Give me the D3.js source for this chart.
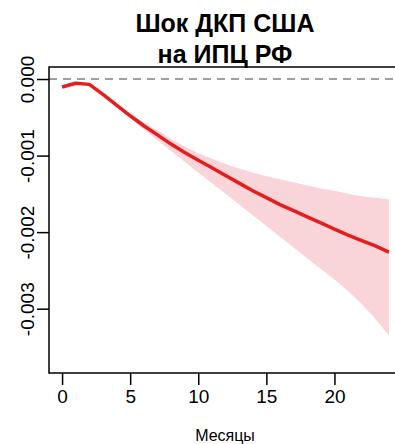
<!DOCTYPE html>
<html>
<head>
<meta charset="utf-8">
<script src="https://cdn.jsdelivr.net/npm/d3@7"></script>
<style>
  body { margin: 0; background: #fff; }
  text { font-family: "Liberation Sans", Arial, sans-serif; }
</style>
</head>
<body>
<script>
// impulse response, months 0..24
let months = d3.range(0, 25);
let irf   = [-0.000105, -0.000056, -0.00007, -0.0002, -0.00034, -0.00048, -0.00061, -0.00073, -0.00085,
             -0.00096, -0.00106, -0.00116, -0.00126, -0.00136, -0.00146, -0.00155, -0.00164, -0.00172,
             -0.0018, -0.00188, -0.00196, -0.00204, -0.00211, -0.00218, -0.00226];
let upper = [-0.000105, -0.000056, -0.00007, -0.0002, -0.00033, -0.00045, -0.00057, -0.00067, -0.00078,
             -0.00088, -0.00097, -0.00104, -0.00111, -0.00117, -0.00122, -0.00127, -0.00131, -0.00135,
             -0.00139, -0.00143, -0.00146, -0.0015, -0.00153, -0.00155, -0.00157];
let lower = [-0.000105, -0.000056, -0.00007, -0.0002, -0.00035, -0.0005, -0.00066, -0.0008, -0.00094,
             -0.00108, -0.00122, -0.00136, -0.0015, -0.00164, -0.00178, -0.00192, -0.00206, -0.0022,
             -0.00234, -0.00248, -0.00262, -0.00277, -0.00294, -0.00313, -0.00335];
let xTicks = [0, 5, 10, 15, 20];
let yTicks = [0, -0.001, -0.002, -0.003];
let titleLines = ["Шок ДКП США", "на ИПЦ РФ"];
let xTitle = "Месяцы";

let W = 395, H = 444;
let pLeft = 49, pRight = 402, pTop = 67, pBottom = 373;

let svg = d3.select('body').append('svg')
    .attr('width', W)
    .attr('height', H);

let x = d3.scaleLinear().domain([-0.96, 24.96]).range([pLeft, pRight]);
let y = d3.scaleLinear().domain([-0.00384, 0.000157]).range([pBottom, pTop]);

// confidence band
let area = d3.area()
    .x((d, i) => x(months[i]))
    .y0((d, i) => y(lower[i]))
    .y1((d, i) => y(upper[i]));
svg.append('path')
    .attr('d', area(months))
    .attr('fill', '#f9d5d9');

// zero line
svg.append('line')
    .attr('x1', pLeft).attr('x2', W)
    .attr('y1', y(0)).attr('y2', y(0))
    .attr('stroke', '#808080')
    .attr('stroke-width', 1.5)
    .attr('stroke-dasharray', '8,6');

// response line
let line = d3.line()
    .x((d, i) => x(months[i]))
    .y((d, i) => y(irf[i]));
svg.append('path')
    .attr('d', line(months))
    .attr('fill', 'none')
    .attr('stroke', '#e41e1e')
    .attr('stroke-width', 3.5)
    .attr('stroke-linejoin', 'round');

// box
svg.append('rect')
    .attr('x', pLeft).attr('y', pTop)
    .attr('width', pRight - pLeft).attr('height', pBottom - pTop)
    .attr('fill', 'none')
    .attr('stroke', '#000')
    .attr('stroke-width', 1.5);

// x axis
let xAxis = d3.axisBottom(x).tickValues(xTicks).tickSize(12).tickPadding(5).tickFormat(d3.format('d'));
let gx = svg.append('g').attr('transform', `translate(0,${pBottom})`).call(xAxis);
gx.select('.domain').remove();
gx.selectAll('line').attr('stroke-width', 1.5);
gx.selectAll('text').attr('font-size', 19).attr('fill', '#000')
    .attr('font-family', '"Liberation Sans", Arial, sans-serif');

// y axis
let yAxis = d3.axisLeft(y).tickValues(yTicks).tickSize(12).tickFormat(d3.format('.3f'));
let gy = svg.append('g').attr('transform', `translate(${pLeft},0)`).call(yAxis);
gy.select('.domain').remove();
gy.selectAll('line').attr('stroke-width', 1.5);
gy.selectAll('text')
    .attr('font-size', 19).attr('fill', '#000')
    .attr('font-family', '"Liberation Sans", Arial, sans-serif')
    .attr('x', null).attr('dy', null)
    .attr('text-anchor', 'middle')
    .attr('transform', 'translate(-15,0) rotate(-90)')
    .text(d => d3.format('.3f')(d).replace('−', '-'));

// titles
titleLines.forEach((t, i) => {
    svg.append('text')
        .attr('x', 225).attr('y', 32 + i * 31)
        .attr('text-anchor', 'middle')
        .attr('font-size', 25)
        .attr('font-weight', 'bold')
        .text(t);
});
svg.append('text')
    .attr('x', 225).attr('y', 441)
    .attr('text-anchor', 'middle')
    .attr('font-size', 16)
    .text(xTitle);
</script>
</body>
</html>
